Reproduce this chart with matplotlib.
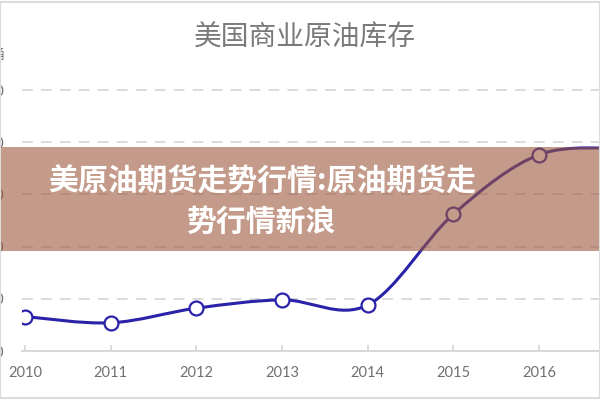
import matplotlib
matplotlib.use('Agg')
import matplotlib.pyplot as plt
from matplotlib.path import Path
from matplotlib.patches import PathPatch, Rectangle
import numpy as np

# ---- data ----
years = [2010, 2011, 2012, 2013, 2014, 2015, 2016, 2017]
stocks = [333, 327, 341, 349, 344, 431, 488, 494]
yticks = [300, 350, 400, 450, 500, 550]
xticks = [2010, 2011, 2012, 2013, 2014, 2015, 2016]
title = '美国商业原油库存'
unit = '百万桶'
banner_lines = ['美原油期货走势行情:原油期货走', '势行情新浪']

LINE = '#2a22a8'
GRID = '#d9d9d9'
TXT = '#707070'
CJK = ['Noto Sans CJK SC', 'DejaVu Sans']

fig = plt.figure(figsize=(6, 4), dpi=100)
fig.patch.set_facecolor('white')

ax = fig.add_axes([22 / 600, 49 / 400, 628 / 600, 270 / 400])
ax.set_xlim(2009.965, 2009.965 + 628 / 85.67)
ax.set_ylim(300, 300 + 270 / 52.2 * 50)

# smooth line (Catmull-Rom style Bezier through the data points)
x = np.array(years, dtype=float)
y = np.array(stocks, dtype=float)
pts = np.column_stack([x, y])
verts = [tuple(pts[0])]
codes = [Path.MOVETO]
n = len(pts)
for i in range(n - 1):
    p0 = pts[i - 1] if i > 0 else pts[i]
    p1 = pts[i]
    p2 = pts[i + 1]
    p3 = pts[i + 2] if i + 2 < n else pts[i + 1]
    c1 = p1 + (p2 - p0) / 6.0
    c2 = p2 - (p3 - p1) / 6.0
    verts += [tuple(c1), tuple(c2), tuple(p2)]
    codes += [Path.CURVE4] * 3
ax.add_patch(PathPatch(Path(verts, codes), facecolor='none', edgecolor=LINE,
                       lw=2.2, zorder=3, capstyle='round'))
ax.plot(years, stocks, 'o', ms=10, mfc='white', mec=LINE, mew=1.6, zorder=4)

# grid & axes styling
ax.set_yticks(yticks)
ax.set_xticks(xticks)
ax.set_xticklabels([str(v) for v in xticks])
ax.grid(axis='y', color=GRID, lw=1.3, ls=(0, (6, 4.5)))
ax.grid(axis='x', visible=False)
ax.set_axisbelow(True)
for s in ['top', 'right', 'left']:
    ax.spines[s].set_visible(False)
ax.spines['bottom'].set_color(GRID)
ax.spines['bottom'].set_linewidth(1.5)
ax.tick_params(axis='y', length=0, pad=13, labelsize=10.5, labelcolor=TXT)
ax.tick_params(axis='x', direction='in', length=4, color=GRID, width=1.3,
               pad=11, labelsize=10.5, labelcolor=TXT)
for lab in ax.get_xticklabels() + ax.get_yticklabels():
    lab.set_fontfamily(['Lato', 'DejaVu Sans'])

# title and unit
fig.text(305 / 600, 1 - 38 / 400, title, ha='center', va='center',
         fontsize=20, color='#7a7a7a', family=CJK, fontweight='light')
fig.text(5 / 600, 1 - 55 / 400, unit, ha='right', va='center',
         fontsize=10, color=TXT, family=CJK)

# banner overlay
fig.patches.append(Rectangle((0, 1 - 251 / 400), 1, 104 / 400,
                             transform=fig.transFigure, facecolor='#9d583c',
                             alpha=0.6, edgecolor='none', zorder=5))
fig.text(262 / 600, 1 - 182 / 400, banner_lines[0], ha='center', va='center',
         fontsize=21.5, fontweight='heavy', color='white', family=CJK, zorder=6)
fig.text(262 / 600, 1 - 222 / 400, banner_lines[1], ha='center', va='center',
         fontsize=21.5, fontweight='heavy', color='white', family=CJK, zorder=6)

# light frame
fig.patches.append(Rectangle((0.0, 0.006), 1.0, 0.99, transform=fig.transFigure,
                             facecolor='none', edgecolor='#dcdcdc', lw=1.5,
                             zorder=7))

fig.savefig('out.png', dpi=100)
